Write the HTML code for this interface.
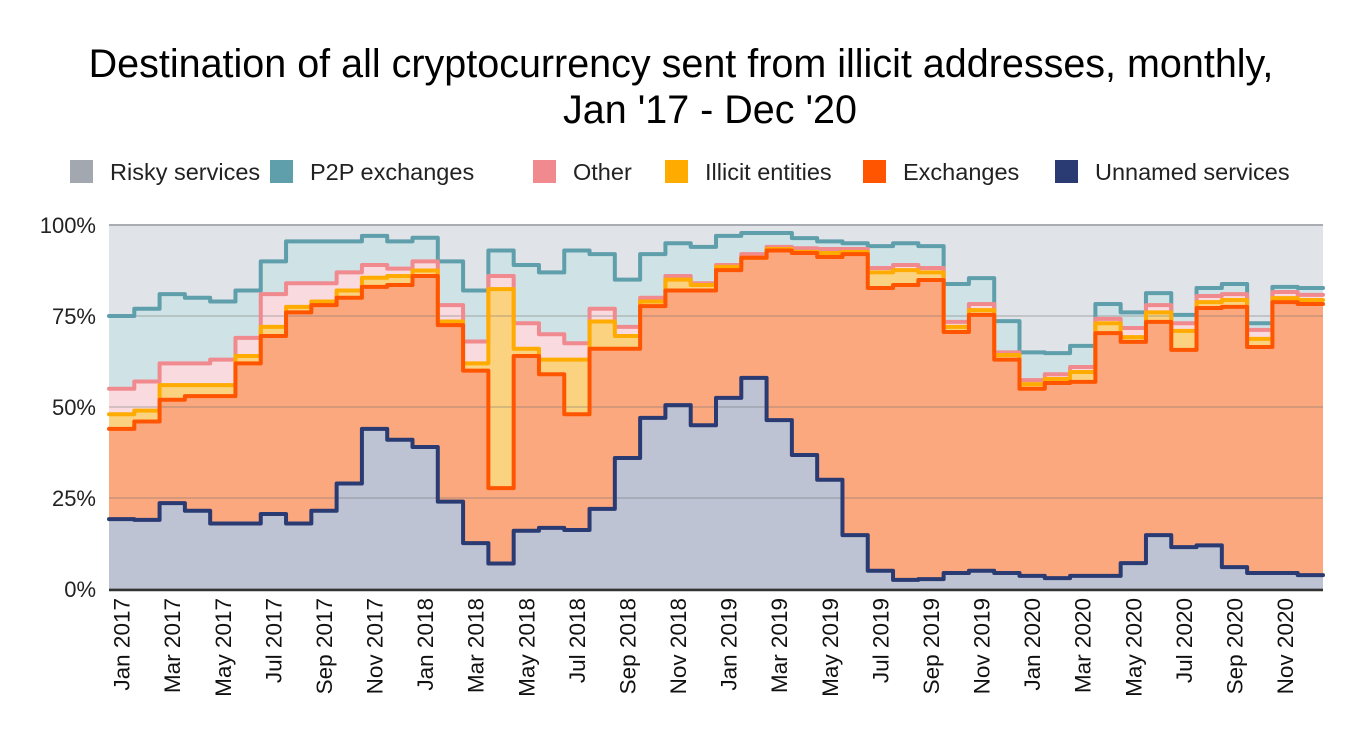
<!DOCTYPE html>
<html><head><meta charset="utf-8"><style>
body{margin:0;background:#fff;font-family:"Liberation Sans",Arial,sans-serif;}
svg text{font-family:"Liberation Sans",Arial,sans-serif;}
</style></head><body>
<svg id="chart" width="1360" height="742" xmlns="http://www.w3.org/2000/svg">
<text x="681" y="77" text-anchor="middle" font-size="39.5" fill="#000">Destination of all cryptocurrency sent from illicit addresses, monthly,</text>
<text x="710" y="123" text-anchor="middle" font-size="39.5" fill="#000">Jan '17 - Dec '20</text>
<g id="legend"></g>
<g id="plot"></g>
<g id="axes"></g>
</svg>
<script>
// cumulative shares (%) per month, bottom to top
const months = ["Jan 2017","Feb 2017","Mar 2017","Apr 2017","May 2017","Jun 2017","Jul 2017","Aug 2017","Sep 2017","Oct 2017","Nov 2017","Dec 2017","Jan 2018","Feb 2018","Mar 2018","Apr 2018","May 2018","Jun 2018","Jul 2018","Aug 2018","Sep 2018","Oct 2018","Nov 2018","Dec 2018","Jan 2019","Feb 2019","Mar 2019","Apr 2019","May 2019","Jun 2019","Jul 2019","Aug 2019","Sep 2019","Oct 2019","Nov 2019","Dec 2019","Jan 2020","Feb 2020","Mar 2020","Apr 2020","May 2020","Jun 2020","Jul 2020","Aug 2020","Sep 2020","Oct 2020","Nov 2020","Dec 2020"];
const unnamedTop = [19.2,19,23.6,21.5,18,18,20.6,18,21.5,29,44,41,39,24,12.6,7,16,16.8,16.2,22,36,47,50.5,45,52.5,58,46.4,36.8,30,14.8,5,2.5,2.7,4.4,5,4.4,3.6,3,3.6,3.6,7.1,14.8,11.5,12,6,4.4,4.4,3.8];
const exchangesTop = [44,46,52,53,53,62,69.5,76,78,80,83,83.5,86,72.5,60,27.7,64,59,48,66,66,77.7,82,82,87.6,91,93,92.3,91.2,92,82.7,83.5,84.9,70.6,75.3,63,55,56.6,56.9,70.3,67.9,73.4,65.7,77.2,77.5,66.5,78.8,78.3];
const illicitTop = [48,49,56,56,56,64,72,77.5,79,82,85.5,86,87.5,73.5,62,82.4,66,63,63,73.5,69.5,79,85,83.5,88.5,91,93.4,92.6,92.3,92.6,87,87.6,87,72,76.6,64.3,56.3,57.7,59.6,73,69.2,76,70.9,78.8,79.4,68.7,79.9,79.4];
const otherTop = [55,57,62,62,63,69,81,84,84,87,89,88,90,78,68,86,73,70,67.5,77,72,80,86,84,89,92,94,93.6,93.4,93.4,88.2,89,88.2,73.4,78.3,65,57.4,59,61,74.2,71.7,78,73,80.5,81,71.2,81.6,80.8];
const p2pTop = [75,77,81,80,79,82,90,95.5,95.5,95.5,97,95.5,96.5,90,82,93,89,87,93,92,85,92,95,94,97,97.8,97.8,96.4,95.5,95,94.2,95,94.2,83.8,85.4,73.6,65,64.8,66.8,78.3,76,81.3,75.3,82.7,83.8,73,83,82.7];
const yTicks = [0,25,50,75,100];
const seriesNames = ["Risky services","P2P exchanges","Other","Illicit entities","Exchanges","Unnamed services"];

const NS="http://www.w3.org/2000/svg";
const X0=109, X1=1323, Y0=589, Y1=225;
const n=months.length, bw=(X1-X0)/n;
const xs=i=>X0+i*bw;
const ys=v=>Y0-(v/100)*(Y0-Y1);
const plot=document.getElementById('plot'), axes=document.getElementById('axes'), legend=document.getElementById('legend');
function mk(tag,attrs,parent){const e=document.createElementNS(NS,tag);for(const k in attrs)e.setAttribute(k,attrs[k]);parent.appendChild(e);return e;}

const bg=mk('rect',{x:X0,y:Y1,width:X1-X0,height:Y0-Y1,fill:'#e0e4e8'},plot);



function stepLine(arr){let d='';for(let i=0;i<n;i++){d+=(i?'L':'M')+xs(i)+','+ys(arr[i])+'L'+xs(i+1)+','+ys(arr[i]);}return d;}
const layers=[
 {arr:p2pTop,fill:'#cfe2e6',stroke:'#5f9eab',name:'p2p-exchanges'},
 {arr:otherTop,fill:'#f8dadf',stroke:'#f08a8e',name:'other'},
 {arr:illicitTop,fill:'#fbd380',stroke:'#ffab00',name:'illicit-entities'},
 {arr:exchangesTop,fill:'#fca87e',stroke:'#ff5500',name:'exchanges'},
 {arr:unnamedTop,fill:'#bdc3d3',stroke:'#2a3a72',name:'unnamed-services'}
];
layers.forEach(l=>{
  const a=mk('path',{d:stepLine(l.arr)+'L'+X1+','+Y0+'L'+X0+','+Y0+'Z',fill:l.fill},plot);
  
  
});
yTicks.forEach(t=>{
  const g=mk('line',{x1:X0,x2:X1,y1:ys(t),y2:ys(t),stroke:t===100?'#a8adb3':'rgba(110,110,110,0.35)','stroke-width':t===100?2:1.5},plot);
  
  
});
layers.forEach(l=>{
  const p=mk('path',{d:stepLine(l.arr),fill:'none',stroke:l.stroke,'stroke-width':4,'stroke-linejoin':'round','stroke-linecap':'round'},plot);
  
  
});
const ax=mk('line',{x1:X0,x2:X1,y1:Y0+1,y2:Y0+1,stroke:'#333','stroke-width':2.5},axes);


yTicks.forEach(t=>{
  const tx=mk('text',{x:96,y:ys(t)+8,'text-anchor':'end','font-size':22,fill:'#222'},axes);
  tx.textContent=t+'%';
  
  
});
months.forEach((m,i)=>{
  if(i%2)return;
  const cx=xs(i)+bw/2+8;
  const tx=mk('text',{x:0,y:0,transform:`translate(${cx},598) rotate(-90)`,'text-anchor':'end','font-size':22.5,fill:'#111'},axes);
  tx.textContent=m;
  
  
});
const legColors=['#a3a8b0','#5f9eab','#f08a8e','#ffab00','#ff5500','#2a3a72'];
const legX=[70,270,533,665,863,1055];
seriesNames.forEach((s,i)=>{
  const r=mk('rect',{x:legX[i],y:160,width:23,height:23,fill:legColors[i]},legend);
  
  
  const t=mk('text',{x:legX[i]+40,y:180,'font-size':23.5,fill:'#222'},legend);
  t.textContent=s;
  
  
});
</script>
</body></html>
